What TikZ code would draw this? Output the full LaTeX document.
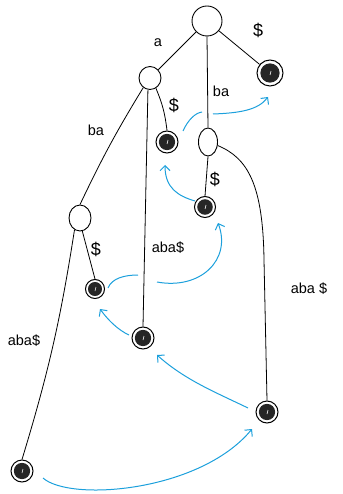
\documentclass[tikz,border=0pt]{standalone}
\usepackage{fontspec}
\setmainfont{Liberation Sans}
\usetikzlibrary{shapes.geometric,arrows.meta}
\definecolor{linkblue}{RGB}{28,160,220}
\tikzset{
  inner/.style={ellipse, draw, line width=0.9pt, inner sep=0pt},
  leaf/.style={circle, draw, line width=1pt, inner sep=0pt, minimum size=#1,
    path picture={\fill[black!85] (path picture bounding box.center) circle (0.37*#1);
      \draw[white, line width=0.6pt] ([yshift=-2pt]path picture bounding box.center) -- ++(1pt,4pt);}},
  edge/.style={draw, line width=0.8pt},
  lbl/.style={font=\fontsize{14.5}{14.5}\selectfont, inner sep=0pt},
  dlbl/.style={font=\fontsize{18}{18}\selectfont, inner sep=0pt},
  link/.style={draw=linkblue, line width=1pt},
  linkarrow/.style={link, -{Straight Barb[length=5pt,width=10pt]}}
}
\begin{document}
\begin{tikzpicture}[x=1pt,y=-1pt]
\useasboundingbox (0,0) rectangle (342,494);
% internal nodes
\node[inner, minimum width=30pt, minimum height=30pt] (root) at (207,21) {};
\node[inner, minimum width=22pt, minimum height=23pt] (na) at (150,78) {};
\node[inner, minimum width=19pt, minimum height=28pt] (nba) at (208,142) {};
\node[inner, minimum width=22pt, minimum height=26pt] (nl) at (80,218) {};
% leaves
\node[leaf=26pt] (L6) at (270,73) {};
\node[leaf=22pt] (L5) at (167,142) {};
\node[leaf=21pt] (L4) at (205,207) {};
\node[leaf=22pt] (L3) at (143,338) {};
\node[leaf=19pt] (L2) at (95,289) {};
\node[leaf=22pt] (L1) at (22,471) {};
\node[leaf=22pt] (L0) at (267,412) {};
% tree edges
\draw[edge] (root) -- (na);
\draw[edge] (root) -- (L6);
\draw[edge] (root.south) -- (nba.north);
\draw[edge] (na.-60) to[bend left=8] (L5.north);
\draw[edge] (na.-100) -- (L3.north);
\draw[edge] (na.-125) to[bend right=3] (nl.north);
\draw[edge] (nba.south) -- (L4.north);
\draw[edge] (nba.-20) .. controls (248,158) and (263,185) .. (264,260) -- (L0.north);
\draw[edge] (nl.-80) -- (L2.north);
\draw[edge] (nl.-115) to[bend left=4] (L1.north);
% edge labels
\node[lbl] (t1) at (158,43) {a};
\node[dlbl] (t2) at (258,30) {\$};
\node[lbl] (t3) at (221,91) {ba};
\node[dlbl] (t4) at (174,105) {\$};
\node[lbl] (t5) at (96,130) {ba};
\node[dlbl] (t6) at (215,179) {\$};
\node[lbl] (t7) at (168,248) {aba\$};
\node[dlbl] (t8) at (96,249) {\$};
\node[lbl] (t9) at (309,289) {aba \$};
\node[lbl] (t10) at (24,341) {aba\$};
% suffix-link arrows
\coordinate (a1s) at (43,478);
\coordinate (a1e) at (252,429);
\draw[linkarrow] (a1s) .. controls (70,502) and (200,492) .. (a1e);
\coordinate (a2s) at (248,408);
\coordinate (a2e) at (157,355);
\draw[linkarrow] (a2s) .. controls (215,392) and (185,380) .. (a2e);
\coordinate (a3s) at (129,335);
\coordinate (a3e) at (100,309);
\draw[linkarrow] (a3s) .. controls (118,330) and (108,320) .. (a3e);
\coordinate (a4s) at (108,288);
\coordinate (a4m) at (138,275);
\coordinate (a4n) at (157,282);
\coordinate (a4e) at (218,223);
\draw[link] (a4s) .. controls (112,278) and (125,275) .. (a4m);
\draw[linkarrow] (a4n) .. controls (200,290) and (232,260) .. (a4e);
\coordinate (a5s) at (195,201);
\coordinate (a5e) at (165,165);
\draw[linkarrow] (a5s) .. controls (178,196) and (165,188) .. (a5e);
\coordinate (a6s) at (183,131);
\coordinate (a6m) at (202,112);
\coordinate (a6n) at (213,114);
\coordinate (a6e) at (268,97);
\draw[link] (a6s) .. controls (188,120) and (195,113) .. (a6m);
\draw[linkarrow] (a6n) .. controls (240,113) and (258,110) .. (a6e);
\end{tikzpicture}
\end{document}
